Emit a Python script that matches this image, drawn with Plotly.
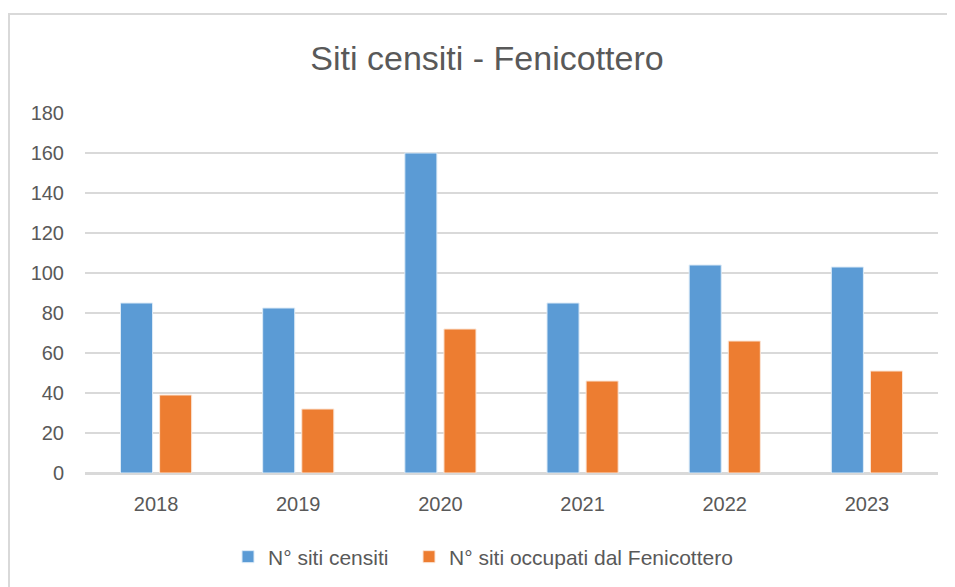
import plotly.graph_objects as go

years = ["2018", "2019", "2020", "2021", "2022", "2023"]
siti_censiti = [85, 82.5, 160, 85, 104, 103]
siti_occupati = [39, 32, 72, 46, 66, 51]
series_names = ["N° siti censiti", "N° siti occupati dal Fenicottero"]
title_text = "Siti censiti - Fenicottero"

FONT = "Liberation Sans, Arial"
TXT = "#595959"

fig = go.Figure()
fig.add_trace(go.Bar(x=years, y=siti_censiti, name=series_names[0], legend="legend",
                     showlegend=True,
                     marker=dict(color="#5B9BD5", line=dict(color="#DDEBF7", width=1))))
fig.add_trace(go.Bar(x=years, y=siti_occupati, name=series_names[1], legend="legend2",
                     showlegend=True,
                     marker=dict(color="#ED7D31", line=dict(color="#FBE5D6", width=1))))

# page body has an 8px margin, so the figure is drawn 8px right and down
W, H = 947, 579
L, R, T, B = 77, 17, 105, 114
pw, ph = W - L - R, H - T - B

leg_common = dict(orientation="h", xanchor="left", yanchor="middle", y=-(549 - 465) / ph,
                  font=dict(family=FONT, size=21, color=TXT), itemwidth=30,
                  bgcolor="rgba(0,0,0,0)")

fig.update_layout(
    width=W, height=H, showlegend=True,
    margin=dict(l=L, r=R, t=T, b=B, autoexpand=False),
    paper_bgcolor="white", plot_bgcolor="white",
    barmode="group", bargap=0.45, bargroupgap=0.18,
    title=dict(text=title_text, x=(487 - 8) / W, xanchor="center", y=1 - 50 / H, yanchor="middle",
               font=dict(family=FONT, size=34, color=TXT)),
    font=dict(family=FONT, color=TXT, size=20),
    legend=dict(x=(228 - 8 - L) / pw, **leg_common),
    legend2=dict(x=(409 - 8 - L) / pw, **leg_common),
    xaxis=dict(showgrid=False, showline=True, linecolor="#D9D9D9", linewidth=2,
               ticks="", ticklabelstandoff=12, tickfont=dict(size=20, color=TXT)),
    yaxis=dict(range=[0, 180], dtick=20, showgrid=True, gridcolor="#D9D9D9", gridwidth=2,
               zeroline=True, zerolinecolor="#D9D9D9", zerolinewidth=2, showline=False,
               ticks="", ticklabelstandoff=20, tickfont=dict(size=20, color=TXT)),
    shapes=[dict(type="rect", xref="paper", yref="paper",
                 x0=(1 - L) / pw, x1=(W + 20 - L) / pw,
                 y0=-(H + 20 - T - ph) / ph, y1=1 + (T - 6) / ph,
                 line=dict(color="#D9D9D9", width=2), fillcolor="rgba(0,0,0,0)", layer="below")],
)

fig.write_html("out.html")
